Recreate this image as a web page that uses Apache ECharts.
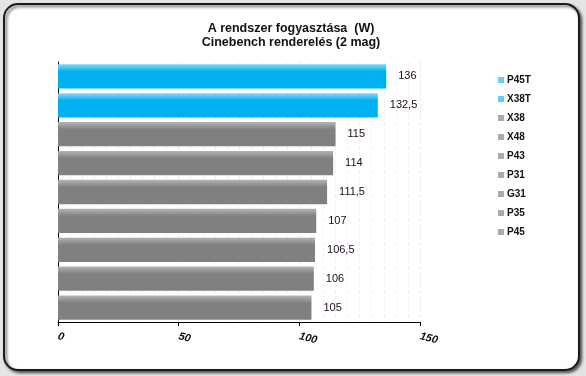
<!DOCTYPE html>
<html>
<head>
<meta charset="utf-8">
<script src="https://cdn.jsdelivr.net/npm/echarts@6/dist/echarts.min.js"></script>
<style>
  html, body { margin: 0; padding: 0; background: #e4e4e4; }
  #chart { width: 586px; height: 376px; }
</style>
</head>
<body>
<div id="chart"></div>
<script>
const categories = ['P45T', 'X38T', 'X38', 'X48', 'P43', 'P31', 'G31', 'P35', 'P45']
const values = [136, 132.5, 115, 114, 111.5, 107, 106.5, 106, 105]
const barColors = ['#00b0f0', '#00b0f0', '#808080', '#808080', '#808080', '#808080', '#808080', '#808080', '#808080']
const lightColors = ['#80d8f8', '#80d8f8', '#b4b4b4', '#b4b4b4', '#b4b4b4', '#b4b4b4', '#b4b4b4', '#b4b4b4', '#b4b4b4']
const legendColors = ['#66ccee', '#66ccee', '#aaaaaa', '#aaaaaa', '#aaaaaa', '#aaaaaa', '#aaaaaa', '#aaaaaa', '#aaaaaa']

const chart = echarts.init(document.getElementById('chart'))

// one series per machine so the legend lists them all; bars overlap via barGap
const series = categories.map((name, i) => ({
  name,
  type: 'bar',
  barGap: '-100%',
  barCategoryGap: '16%',
  data: categories.map((_, j) => (j === i ? values[i] : null)),
  itemStyle: {
    color: new echarts.graphic.LinearGradient(0, 0, 0, 1, [
      { offset: 0, color: lightColors[i] },
      { offset: 0.3, color: barColors[i] },
      { offset: 1, color: barColors[i] },
    ]),
  },
  label: {
    show: true,
    position: 'right',
    distance: 12,
    color: '#1e0a1e',
    fontSize: 11,
    fontFamily: 'Liberation Sans',
    formatter: (p) => String(p.value).replace('.', ','),
  },
}))

chart.setOption({
  animation: false,
  backgroundColor: '#e4e4e4',
  graphic: [
    {
      type: 'rect',
      shape: { x: 4, y: 4, width: 575, height: 366, r: 14 },
      style: { fill: '#ffffff', stroke: '#1a1a1a', lineWidth: 2, shadowBlur: 3, shadowOffsetX: 2, shadowOffsetY: 2, shadowColor: 'rgba(0,0,0,0.6)' },
      z: -10,
    },
  ],
  title: {
    text: 'A rendszer fogyasztása  (W)\nCinebench renderelés (2 mag)',
    left: 286,
    textAlign: 'center',
    top: 17,
    textStyle: { fontSize: 12.5, fontWeight: 'bold', color: '#111', fontFamily: 'Liberation Sans', lineHeight: 14 },
  },
  legend: {
    orient: 'vertical',
    left: 493,
    top: 70,
    itemWidth: 6,
    itemHeight: 6,
    itemGap: 9,
    icon: 'rect',
    data: categories.map((name, i) => ({ name, itemStyle: { color: legendColors[i] } })),
    textStyle: { fontSize: 10, fontWeight: 'bold', color: '#111', fontFamily: 'Liberation Sans', padding: [0, 0, 0, -2] },
  },
  grid: { left: 58, right: 166, top: 62, bottom: 54 },
  xAxis: {
    type: 'value',
    min: 0,
    max: 150,
    interval: 50,
    axisLine: { show: true, lineStyle: { color: '#000', width: 1 } },
    axisTick: { show: true, length: 4, lineStyle: { color: '#000' } },
    axisLabel: {
      rotate: -15,
      margin: 14,
      fontSize: 11,
      fontWeight: 'bold',
      fontStyle: 'italic',
      color: '#111',
      fontFamily: 'Liberation Sans',
    },
    splitLine: { show: true, lineStyle: { color: '#ebebeb', type: 'dashed' } },
    minorTick: { show: false, splitNumber: 10 },
    minorSplitLine: { show: true, lineStyle: { color: '#f0f0f0', type: 'dashed' } },
  },
  yAxis: {
    type: 'category',
    data: categories,
    inverse: true,
    axisLine: { show: true, lineStyle: { color: '#000', width: 1 } },
    axisTick: { show: false },
    axisLabel: { show: false },
  },
  series,
})
</script>
</body>
</html>
